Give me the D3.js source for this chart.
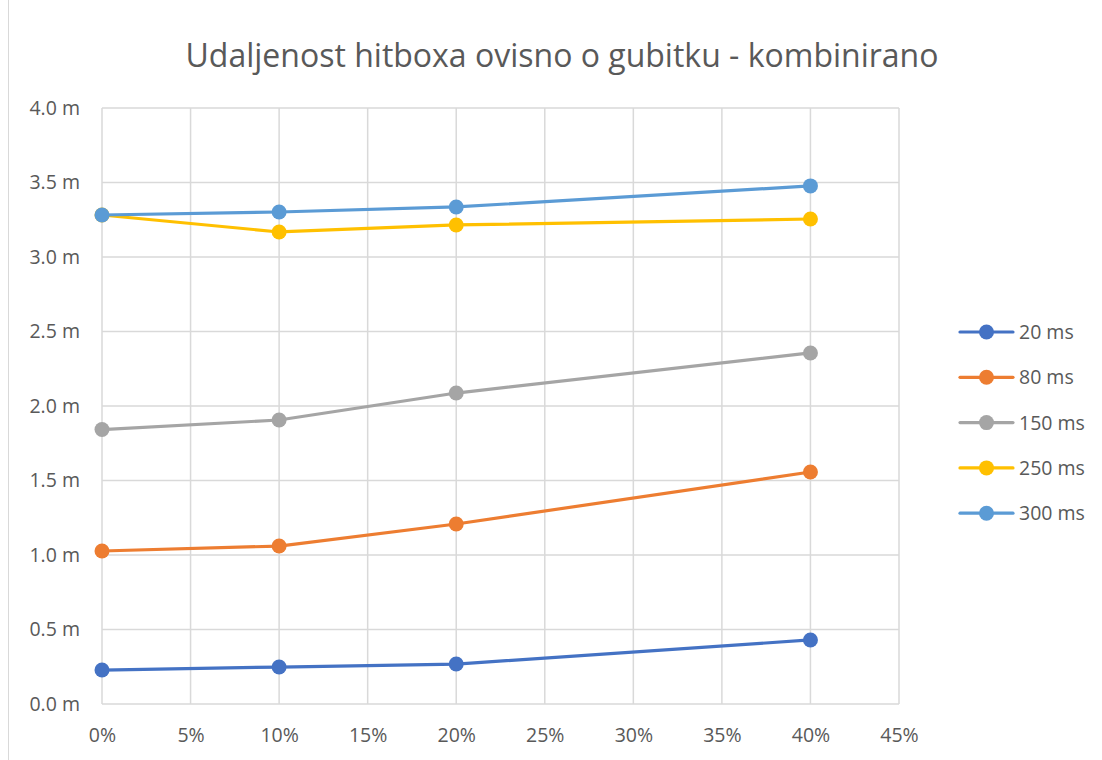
<!DOCTYPE html>
<html>
<head>
<meta charset="utf-8">
<script src="https://cdn.jsdelivr.net/npm/d3@7"></script>
<style>
  body { margin: 0; background: #fff; }
  svg { display: block; font-family: "Open Sans", "Noto Sans", sans-serif; }
</style>
</head>
<body>
<div id="chart"></div>
<script>
// loss percentages on x axis
const losses = [0, 10, 20, 40]
const seriesNames = ['20 ms', '80 ms', '150 ms', '250 ms', '300 ms']
const colors = ['#4472c4', '#ed7d31', '#a5a5a5', '#ffc000', '#5b9bd5']

const values20 = [0.228, 0.248, 0.268, 0.43]
const values80 = [1.027, 1.06, 1.208, 1.557]
const values150 = [1.842, 1.906, 2.087, 2.356]
const values250 = [3.282, 3.168, 3.215, 3.255]
const values300 = [3.282, 3.302, 3.336, 3.477]

const xTicks = [0, 5, 10, 15, 20, 25, 30, 35, 40, 45]
const yTicks = [0, 0.5, 1, 1.5, 2, 2.5, 3, 3.5, 4]

const allValues = [values20, values80, values150, values250, values300]

const w = 1102
const h = 760

const svg = d3.select('#chart')
  .append('svg')
  .attr('width', w)
  .attr('height', h)

// outer chart border (only left edge visible in the crop)
svg.append('line')
  .attr('x1', 8.5).attr('x2', 8.5)
  .attr('y1', 0).attr('y2', h)
  .attr('stroke', '#d9d9d9')
  .attr('stroke-width', 1)

svg.append('text')
  .attr('x', 562)
  .attr('y', 67)
  .attr('text-anchor', 'middle')
  .attr('font-size', 32)
  .attr('fill', '#595959')
  .text('Udaljenost hitboxa ovisno o gubitku - kombinirano')

const xScale = d3.scaleLinear()
  .domain([0, 45])
  .range([102, 899])

const yScale = d3.scaleLinear()
  .domain([0, 4])
  .range([704, 108])

// gridlines
svg.append('g')
  .selectAll('line')
  .data(yTicks)
  .enter()
  .append('line')
  .attr('x1', xScale(0)).attr('x2', xScale(45))
  .attr('y1', d => yScale(d)).attr('y2', d => yScale(d))
  .attr('stroke', '#d9d9d9')
  .attr('stroke-width', 1.5)

svg.append('g')
  .selectAll('line')
  .data(xTicks)
  .enter()
  .append('line')
  .attr('x1', d => xScale(d)).attr('x2', d => xScale(d))
  .attr('y1', yScale(0)).attr('y2', yScale(4))
  .attr('stroke', '#d9d9d9')
  .attr('stroke-width', 1.5)

// axes (labels only, Excel-style)
const xAxis = d3.axisBottom(xScale)
  .tickValues(xTicks)
  .tickFormat(d => d + '%')
  .tickSize(0)
  .tickPadding(24)

const yAxis = d3.axisLeft(yScale)
  .tickValues(yTicks)
  .tickFormat(d => d3.format('.1f')(d) + ' m')
  .tickSize(0)
  .tickPadding(22)

const gx = svg.append('g')
  .attr('transform', 'translate(0,' + yScale(0) + ')')
  .call(xAxis)
gx.select('.domain').remove()

const gy = svg.append('g')
  .attr('transform', 'translate(' + xScale(0) + ',0)')
  .call(yAxis)
gy.select('.domain').remove()

svg.selectAll('.tick text')
  .attr('font-size', 19.5)
  .attr('font-family', '"Open Sans", "Noto Sans", sans-serif')
  .attr('fill', '#595959')

// series
const line = d3.line()
  .x((d, i) => xScale(losses[i]))
  .y(d => yScale(d))

allValues.forEach((vals, s) => {
  svg.append('path')
    .datum(vals)
    .attr('d', line)
    .attr('fill', 'none')
    .attr('stroke', colors[s])
    .attr('stroke-width', 3.2)
    .attr('stroke-linejoin', 'round')
    .attr('stroke-linecap', 'round')

  svg.append('g')
    .selectAll('circle')
    .data(vals)
    .enter()
    .append('circle')
    .attr('cx', (d, i) => xScale(losses[i]))
    .attr('cy', d => yScale(d))
    .attr('r', 7.5)
    .attr('fill', colors[s])
})

// legend
const legend = svg.append('g')
  .selectAll('g')
  .data(seriesNames)
  .enter()
  .append('g')
  .attr('transform', (d, i) => 'translate(960,' + (332 + i * 45.3) + ')')

legend.append('line')
  .attr('x1', 0).attr('x2', 53)
  .attr('stroke', (d, i) => colors[i])
  .attr('stroke-width', 3.2)
  .attr('stroke-linecap', 'round')

legend.append('circle')
  .attr('cx', 26.5)
  .attr('r', 7.5)
  .attr('fill', (d, i) => colors[i])

legend.append('text')
  .attr('x', 59)
  .attr('y', 7)
  .attr('font-size', 19.5)
  .attr('fill', '#595959')
  .text(d => d)
</script>
</body>
</html>
